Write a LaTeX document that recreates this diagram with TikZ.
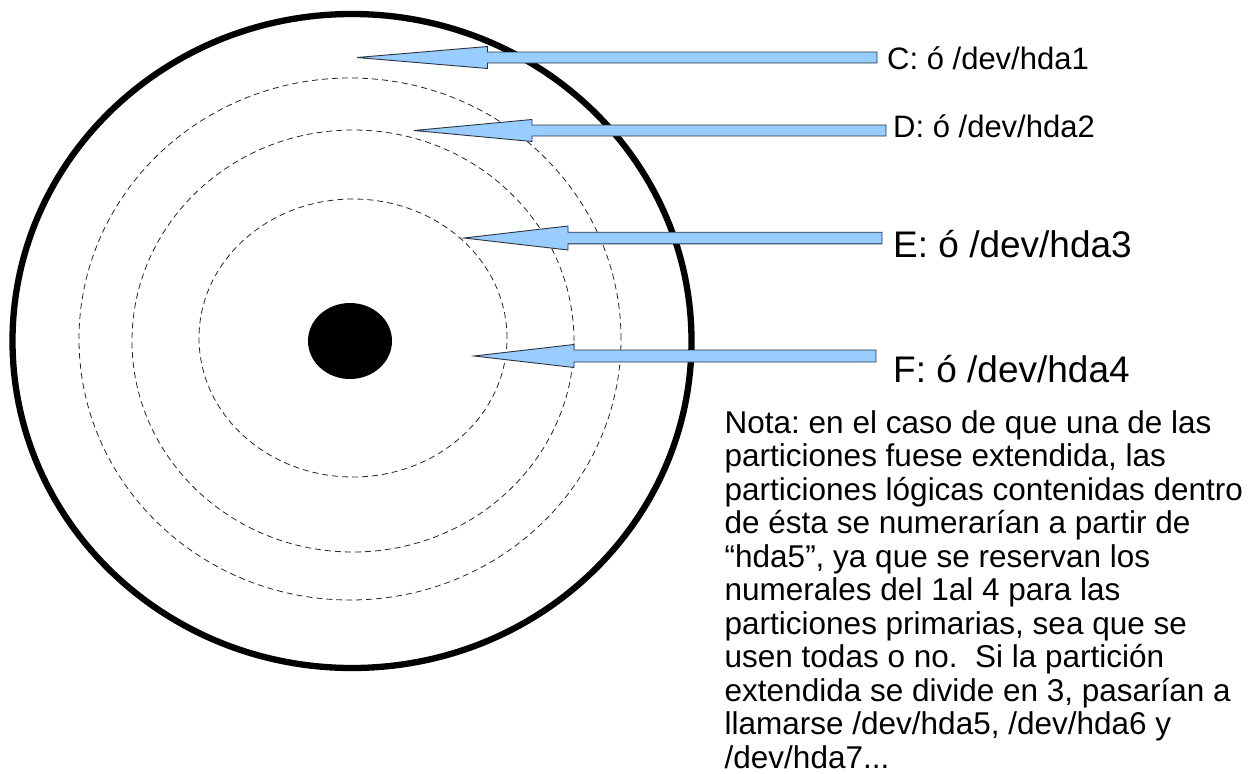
\documentclass[tikz,border=0pt]{standalone}
\usepackage{fontspec}
\setmainfont{Liberation Sans}
\frenchspacing
\definecolor{arrowblue}{HTML}{99CCFF}
\definecolor{arrowline}{HTML}{2A3440}
\tikzset{
  disk/.style={draw=black, line width=6.3pt},
  track/.style={draw=black!85, line width=0.8pt, dash pattern=on 6pt off 4pt},
  hub/.style={fill=black},
  blockarrow/.style={fill=arrowblue, draw=arrowline, line width=0.9pt, line join=miter},
  smalllabel/.style={anchor=base west, inner sep=0pt, font=\fontsize{31}{37}\selectfont},
  biglabel/.style={anchor=base west, inner sep=0pt, font=\fontsize{37}{44}\selectfont},
  noteline/.style={anchor=base west, inner sep=0pt, font=\fontsize{31.5}{33}\selectfont},
}
% tip x, y, head-base x, head half height, shaft half height, shaft end x
\newcommand\mkblockarrow[6]{%
  \draw[blockarrow] (#1,#2) -- (#3,#2-#4) -- (#3,#2-#5) -- (#6,#2-#5) --
    (#6,#2+#5) -- (#3,#2+#5) -- (#3,#2+#4) -- cycle;}
\begin{document}
\begin{tikzpicture}[x=1pt,y=-1pt]
\useasboundingbox (0,0) rectangle (1254,774);
% disk
\draw[disk] (352,341) ellipse [x radius=339.5pt, y radius=327pt];
\draw[track] (350,339) ellipse [x radius=271pt, y radius=261pt];
\draw[track] (353,341) ellipse [x radius=221pt, y radius=211pt];
\draw[track] (353,338) ellipse [x radius=154pt, y radius=139pt];
\fill[hub] (350,341) ellipse [x radius=42pt, y radius=38pt];
% arrows
\mkblockarrow{357}{57.5}{487.5}{11}{5.5}{877}
\mkblockarrow{414}{130.5}{532}{11}{5.5}{886}
\mkblockarrow{464}{238}{568}{12}{5.8}{882}
\mkblockarrow{474}{356}{574}{11.5}{6}{876}
% labels
\node[smalllabel] (lc) at (887,69) {C: ó /dev/hda1};
\node[smalllabel] (ld) at (893,137.5) {D: ó /dev/hda2};
\node[biglabel] (le) at (893,257) {E: ó /dev/hda3};
\node[biglabel] (lf) at (893,382) {F: ó /dev/hda4};
% note
\node[noteline] (note0) at (724.5,433.0) {Nota: en el caso de que una de las};
\node[noteline] (note1) at (724.5,466.5) {particiones fuese extendida, las};
\node[noteline] (note2) at (724.5,500.0) {particiones lógicas contenidas dentro};
\node[noteline] (note3) at (724.5,533.5) {de ésta se numerarían a partir de};
\node[noteline] (note4) at (724.5,567.0) {“hda5”, ya que se reservan los};
\node[noteline] (note5) at (724.5,600.5) {numerales del 1al 4 para las};
\node[noteline] (note6) at (724.5,634.0) {particiones primarias, sea que se};
\node[noteline] (note7) at (724.5,667.5) {usen todas o no.\ \ Si la partición};
\node[noteline] (note8) at (724.5,701.0) {extendida se divide en 3, pasarían a};
\node[noteline] (note9) at (724.5,734.5) {llamarse /dev/hda5, /dev/hda6 y};
\node[noteline] (note10) at (724.5,768.0) {/dev/hda7...};
\end{tikzpicture}
\end{document}
